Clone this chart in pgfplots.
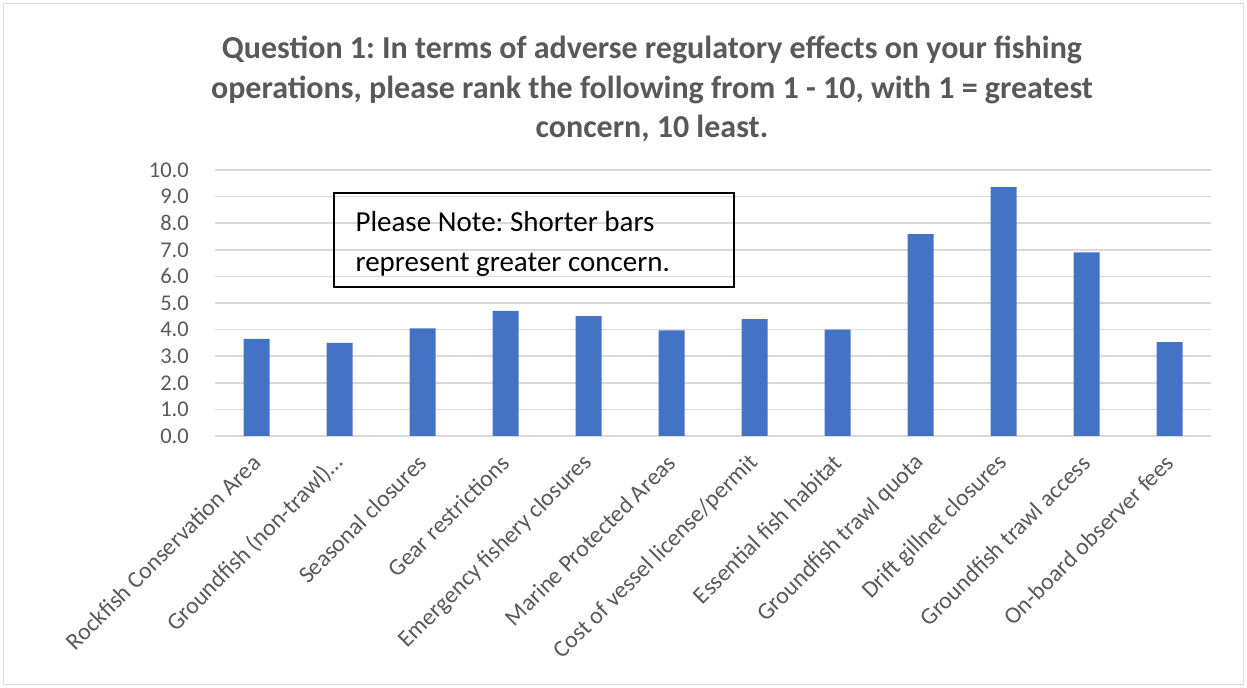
\documentclass[border=0pt]{standalone}
\usepackage{pgfplots}
\pgfplotsset{compat=1.18}
\usepackage{fontspec}
\setmainfont{Carlito}
\definecolor{bargreen}{HTML}{4472C4}
\definecolor{txtgray}{HTML}{595959}
\definecolor{gridgray}{HTML}{D9D9D9}
\frenchspacing
\begin{document}
\begin{tikzpicture}[x=1bp,y=1bp]
\path[use as bounding box] (0,0) rectangle (1247,688);
\fill[white] (0,0) rectangle (1247,688);
\draw[gridgray, line width=1.2bp] (3.5,3.5) rectangle (1243.5,684.5);
\node[align=center, text=txtgray, font={\fontsize{32bp}{39.5bp}\selectfont\bfseries}] at (652,599)
  {Question 1: In terms of adverse regulatory effects on your fishing\\operations, please rank the following from 1 - 10, with 1 = greatest\\concern, 10 least.};
\begin{axis}[
  at={(215bp,252bp)}, anchor=south west,
  scale only axis, width=996bp, height=266bp,
  xmin=-0.5, xmax=11.5, ymin=0, ymax=10,
  axis line style={draw=none},
  ymajorgrids, grid style={gridgray, line width=1.5bp},
  major tick length=0pt,
  ytick={0,1,...,10},
  xtick={0,1,...,11},
  xticklabels={Rockfish Conservation Area, Groundfish (non-trawl)…, Seasonal closures, Gear restrictions, Emergency fishery closures, Marine Protected Areas, Cost of vessel license/permit, Essential fish habitat, Groundfish trawl quota, Drift gillnet closures, Groundfish trawl access, On-board observer fees},
  /pgf/number format/assume math mode=true,
  yticklabel={\pgfmathprintnumber[fixed, fixed zerofill, precision=1]{\tick}},
  yticklabel style={font={\fontsize{22.5bp}{27bp}\selectfont}, text=txtgray, anchor=east, inner sep=0pt, xshift=-26bp},
  xticklabel style={font={\fontsize{23.8bp}{28bp}\selectfont}, text=txtgray, inner sep=0pt, xshift=0bp, yshift=-23bp, rotate=45, anchor=east},
  ybar, bar width=26bp,
]
\addplot[fill=bargreen, draw=none] coordinates {
(0,3.65) (1,3.50) (2,4.05) (3,4.70) (4,4.51) (5,3.97) (6,4.39) (7,4.00) (8,7.59) (9,9.36) (10,6.90) (11,3.53)
};
\end{axis}
\draw[black, line width=1.5bp] (334,688-193) rectangle (734,688-287);
\node[anchor=west, align=left, font={\fontsize{29bp}{40bp}\selectfont}, text=black] at (352,688-244)
  {Please Note: Shorter bars\\represent greater concern.};
\end{tikzpicture}
\end{document}
